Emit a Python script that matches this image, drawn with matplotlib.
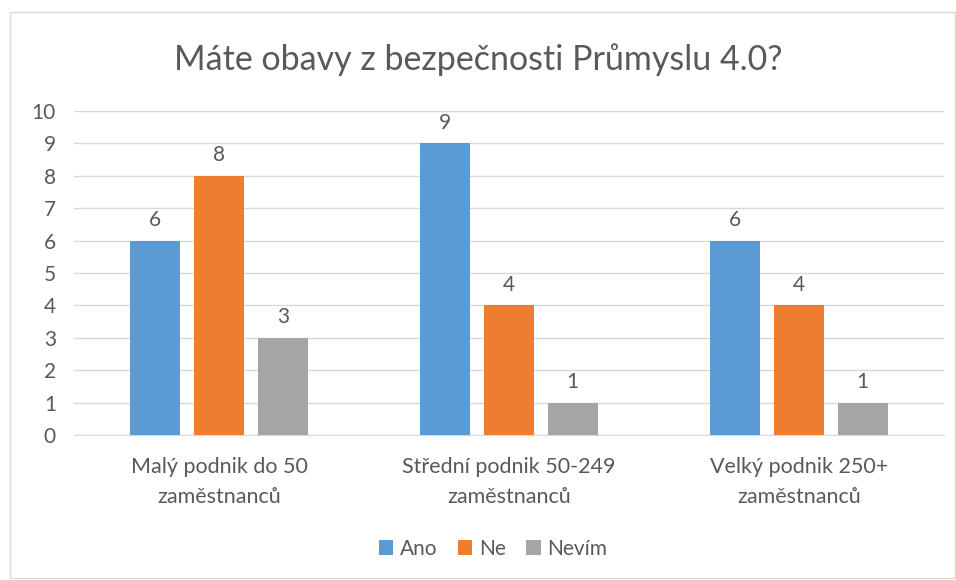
import numpy as np
import matplotlib.pyplot as plt
from matplotlib.patches import Rectangle

categories = ["Malý podnik do 50\nzaměstnanců", "Střední podnik 50-249\nzaměstnanců", "Velký podnik 250+\nzaměstnanců"]
series = ["Ano", "Ne", "Nevím"]
ano = [6, 9, 6]
ne = [8, 4, 4]
nevim = [3, 1, 1]
colors = ["#5B9BD5", "#ED7D31", "#A5A5A5"]

plt.rcParams['font.family'] = ['Lato', 'DejaVu Sans']
text_color = "#595959"

fig = plt.figure(figsize=(9.56, 5.80), dpi=100)
ax = fig.add_axes([74 / 956, 1 - 435 / 580, (944 - 74) / 956, (435 - 111) / 580])

x = np.arange(len(categories))
width = 0.172
pitch = 0.22
for i, (name, vals) in enumerate(zip(series, [ano, ne, nevim])):
    pos = x + (i - 1) * pitch
    bars = ax.bar(pos, vals, width, color=colors[i], label=name, zorder=3)
    for b, v in zip(bars, vals):
        ax.text(b.get_x() + b.get_width() / 2, v + 0.33, str(v), ha='center', va='bottom',
                fontsize=15, color=text_color)

ax.set_xlim(-0.5, 2.5)
ax.set_ylim(0, 10)
ax.set_yticks(range(0, 11))
ax.yaxis.grid(True, color="#D9D9D9", linewidth=1, zorder=0)
ax.set_xticks(x)
ax.set_xticklabels(categories, fontsize=15.5, color=text_color, linespacing=1.6)
ax.tick_params(axis='y', labelsize=15, labelcolor=text_color, length=0, pad=13)
ax.tick_params(axis='x', length=0, pad=16)
for s in ['top', 'right', 'left']:
    ax.spines[s].set_visible(False)
ax.spines['bottom'].set_color("#D9D9D9")

fig.text(0.5, 1 - 60 / 580, "Máte obavy z bezpečnosti Průmyslu 4.0?", ha='center', va='center',
         fontsize=24.5, color=text_color)

leg = fig.legend(loc='center', bbox_to_anchor=(493 / 956, 1 - 549 / 580), ncol=3, frameon=False,
                 fontsize=15, handlelength=0.7, handleheight=0.7, handletextpad=0.3, columnspacing=1.0)
for t in leg.get_texts():
    t.set_color(text_color)

fig.patches.append(Rectangle((10 / 956, 2 / 580), 945 / 956, 566 / 580, transform=fig.transFigure,
                             fill=False, edgecolor="#D9D9D9", linewidth=1))

fig.savefig("out.png", dpi=100)
